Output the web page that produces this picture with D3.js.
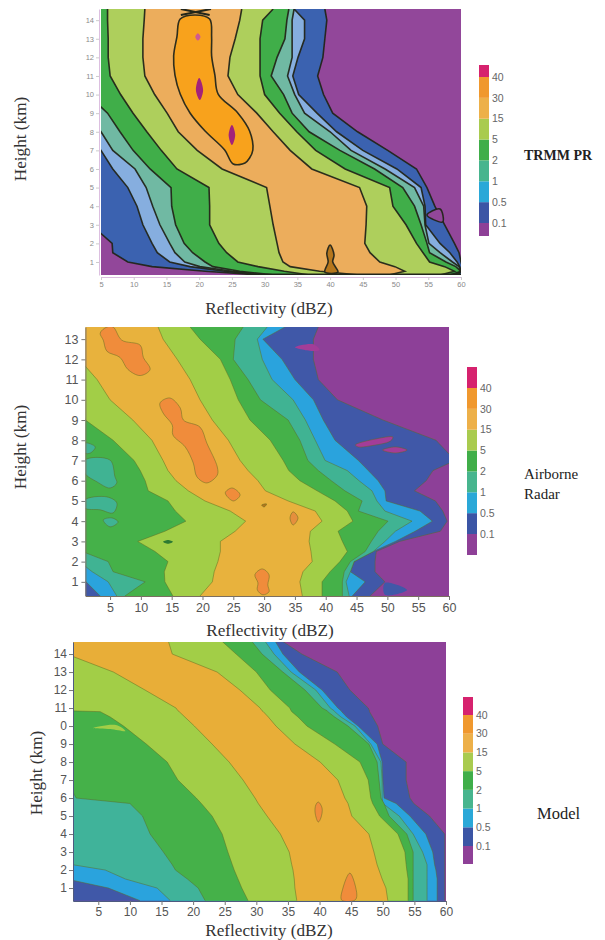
<!DOCTYPE html>
<html>
<head>
<meta charset="utf-8">
<script src="https://cdn.jsdelivr.net/npm/d3@7"></script>
<style>
  html, body { margin: 0; background: #fff; }
  svg { display: block; }
</style>
</head>
<body>
<div id="chart"></div>
<script>
// frequency class labels on the colour bars
const barLabels = ["40", "30", "15", "5", "2", "1", "0.5", "0.1"];

// ---- TRMM PR: reflectivity (dBZ) of each contour at each height (km)
const trmmHeights = [0.3, 0.5, 0.75, 1, 1.5, 2, 3, 4, 5, 6, 7, 8, 9, 10, 11, 12, 13, 14, 14.6];
const trmmLeft01 = [29.3, 20.9, 12.8, 9.1, 6.8, 6.7, 3.5, 3, 3, 3, 3, 3, 3, 3, 3, 3, 3, 3, 3];
const trmmLeft05 = [30, 23.9, 18.6, 15.5, 13.6, 12.8, 11.4, 10.5, 9.1, 6.8, 5, 3, 3, 3, 3, 3, 3, 3, 3];
const trmmLeft1 = [30.8, 25, 20.1, 17.8, 16.3, 15.5, 14, 12.9, 11.9, 10.2, 6.8, 5, 3, 3, 3, 3, 3, 3, 3];
const trmmLeft2 = [31.6, 26.2, 22.1, 20.9, 19, 17.7, 16.4, 15.8, 15.7, 12.5, 9.9, 7.9, 6, 3, 3, 3, 3, 3, 3];
const trmmLeft5 = [36.9, 33, 29, 25.9, 24.2, 23, 21.6, 21.6, 21.5, 16.6, 14.2, 12, 9.9, 8, 6.4, 6.1, 6.1, 6, 6];
const trmmLeft15 = [44.5, 38.4, 33.9, 32.8, 32.2, 31.9, 31.3, 30.8, 30.3, 23.5, 19.7, 16.8, 15.1, 13.2, 11.7, 11.4, 11.4, 11.6, 11.7];
const trmmRight15 = [49, 51.4, 49.9, 47.6, 46.1, 45.3, 45.5, 45.6, 44.5, 37.2, 33.9, 31.3, 28.8, 25.9, 24.4, 24.7, 25.5, 26.2, 26.5];
const trmmRight5 = [56.8, 59, 57.5, 55.2, 54.2, 53.2, 51.6, 49.6, 49.1, 42.3, 37.8, 34.9, 32.3, 30, 29.3, 29.3, 29.3, 29.7, 31.3];
const trmmRight2 = [58.3, 60, 59.2, 57.7, 55.2, 54.8, 53.9, 52.9, 51.1, 46.8, 41.5, 36.8, 34.2, 32.9, 31, 31.9, 33.1, 33.4, 33.7];
const trmmRight1 = [59, 60, 59.7, 58.7, 56.8, 55.1, 54.5, 54.3, 52.9, 48.4, 43.2, 40, 36.1, 34.6, 33.5, 34.2, 34.2, 34.2, 34.5];
const trmmRight05 = [59.5, 60, 59.8, 59.4, 58.3, 56.8, 54.6, 54.5, 53.9, 50.2, 45, 41, 38, 35.2, 34.3, 35.1, 36.1, 36.1, 34.5];
const trmmRight01 = [60.2, 60.2, 60.2, 60, 59.7, 59, 57.5, 56, 54.8, 53.2, 48.8, 44.2, 40.4, 39, 38.1, 38.9, 39.2, 39.5, 39.2];
// closed contours, as [dBZ, km]
const trmmCore = [[25.2, 6.27], [23.9, 7.02], [20.9, 8.04], [18.6, 9.01], [17.1, 10.03], [16.3, 11.05], [16.1, 12.08], [16.6, 13.1], [17.1, 14.06], [19.4, 14.28], [21.6, 14.06], [21.9, 13.1], [21.9, 12.08], [22.4, 11.05], [22.9, 10.03], [25.9, 9.01], [27.7, 8.04], [28.2, 7.02], [27.7, 6.59], [27, 6.32]];
const trmmSpire = [[40, 1.91], [40.6, 1.38], [40.4, 1], [41.2, 0.46], [39.2, 0.46], [39.7, 1], [39.5, 1.48]];
const trmmSpot1 = [[19.4, 13.1], [19.8, 13.3], [20.2, 13.1], [19.8, 12.9]];
const trmmSpot2 = [[20, 10.89], [20.6, 10.25], [20.1, 9.71], [19.5, 10.25]];
const trmmSpot3 = [[25, 8.37], [25.5, 7.83], [25, 7.29], [24.5, 7.83]];
const trmmNotch = [[56.8, 3.85], [54.8, 3.53], [57.2, 3.15]];
const trmmCross1 = [[17.2, 14.6], [21.6, 14.28]];
const trmmCross2 = [[21.8, 14.6], [17.2, 14.28]];
const trmmBase = [[29, 0.33], [60, 0.33]];

// ---- Airborne radar
const airHeights = [0.3, 1, 1.5, 2, 2.5, 3, 3.5, 4, 4.5, 5, 5.5, 6, 6.5, 7, 8, 9, 10, 11, 12, 13, 13.6];
const airLeft01 = [0, 0, 0, 0, 0, 0, 0, 0, 0, 0, 0, 0, 0, 0, 0, 0, 0, 0, 0, 0, 0];
const airLeft05 = [3.4, 1.1, 0, 0, 0, 0, 0, 0, 0, 0, 0, 0, 0, 0, 0, 0, 0, 0, 0, 0, 0];
const airLeft1 = [6.1, 4.7, 2.1, 0, 0, 0, 0, 0, 0, 0, 0, 0, 0, 0, 0, 0, 0, 0, 0, 0, 0];
const airLeft2 = [7.4, 10.7, 5.5, 4.7, 0.5, 0, 0, 0, 0, 0, 0, 0, 0, 0, 0, 0, 0, 0, 0, 0, 0];
const airLeft5 = [15.2, 13.9, 13.8, 14.4, 12.3, 9.5, 13.9, 17.3, 15.6, 14.4, 11.2, 10.7, 9.9, 8.9, 5.5, 1, 0, 0, 0, 0, 0];
const airLeft15 = [19.6, 21.6, 21.9, 22.5, 22.9, 22.9, 25.3, 27, 24.5, 20.4, 17.7, 15.7, 14.4, 13.6, 11.8, 8.7, 5, 2.9, 0, 0, 0];
const airRight15 = [36.2, 35.8, 36.3, 37.8, 37.6, 37.3, 37.5, 39.4, 38.3, 33.9, 30.2, 29, 27.4, 26.1, 24.2, 21.6, 19.6, 18, 15.9, 13.6, 12.8];
const airRight5 = [39.4, 39.4, 40.7, 42.3, 43.5, 42.7, 42, 44.4, 43.5, 41.5, 38.6, 35.8, 34, 33.1, 31, 27.7, 25.8, 24.5, 22.9, 19.6, 18];
const airRight2 = [42.7, 42.7, 43, 44, 46.4, 47.4, 48.5, 50.1, 45.3, 45.9, 43.1, 40.9, 38.8, 37.1, 35.8, 33.9, 29.4, 27.4, 25, 25.3, 26.6];
const airRight1 = [43.8, 43.3, 44, 44.6, 47.7, 49.6, 51.3, 54, 49.6, 48.3, 47.5, 45.4, 43.5, 39.9, 38.3, 36.7, 34.7, 31.3, 29.7, 28.9, 30.5];
const airRight05 = [44.3, 46.4, 44, 44.6, 47.7, 51.3, 54.5, 57.3, 55.3, 49.8, 49.6, 48.5, 46.9, 45.3, 41.5, 39.6, 38, 35, 32.9, 29.8, 33.4];
const airRight01 = [47.2, 49.6, 48, 48, 48.2, 52, 58.6, 59.7, 59, 57.8, 54.4, 56.3, 57.4, 61, 57.9, 49.3, 41.9, 38.8, 38, 38, 38.8];
const airOrange1 = [[3.4, 13.3], [4.5, 13.6], [5.5, 13.6], [6.9, 12.95], [9.9, 12.7], [10.4, 12.1], [11.5, 11.5], [9.9, 11.2], [7.9, 11.5], [6.6, 12.1], [4.5, 12.4], [3.9, 12.95]];
const airOrange2 = [[13.1, 9.84], [14.7, 10.09], [16.4, 9.59], [16.9, 9], [19.6, 8.65], [20.7, 7.86], [22.4, 6.68], [22.4, 6.28], [20.7, 5.89], [19.1, 6.19], [18.5, 6.88], [17.2, 7.67], [15.2, 8.26], [15.1, 8.75], [13.6, 9.35]];
const airOrange3 = [[23.7, 5.4], [24.8, 5.64], [26.1, 5.3], [25, 5]];
const airOrange4 = [[29.6, 4.8], [30.4, 4.85], [30, 4.7]];
const airOrange5 = [[34.2, 4.16], [34.7, 4.46], [35.5, 4.16], [34.7, 3.81]];
const airOrange6 = [[28.5, 1.35], [29.7, 1.64], [30.8, 1.35], [30.6, 0.85], [30.8, 0.51], [29.8, 0.36], [28.9, 0.6], [29, 0.95]];
const airTeal1 = [[0.9, 5.05], [4.5, 5.2], [6.1, 4.9], [5.5, 4.41], [3.4, 4.56], [0.9, 4.65]];
const airTeal2 = [[3.9, 4.06], [5.3, 4.16], [6.3, 3.96], [5, 3.72]];
const airTeal3 = [[0.9, 7.02], [5, 7.02], [5.8, 6.19], [6.1, 5.89], [5, 5.64], [2.9, 5.94], [0.9, 6.38]];
const airTeal4 = [[0.9, 7.86], [2.6, 7.67], [1.8, 7.37], [0.9, 7.37]];
const airPurple1 = [[44.8, 7.77], [48, 8.06], [50.9, 8.16], [50.5, 7.96], [47.2, 7.72], [45.3, 7.67]];
const airPurple2 = [[49.2, 7.52], [51.3, 7.67], [53.2, 7.52], [51.3, 7.37]];
const airPurple3 = [[35, 12.6], [38, 12.75], [39, 12.46], [38, 12.41]];
const airBlueTip = [[49.6, 0.95], [53.2, 0.6], [49.6, 0.36]];
const airGreenDot = [[13.6, 2.98], [14.4, 3.07], [15.2, 2.98], [14.4, 2.88]];

// ---- Model
const modelHeights = [0.3, 1, 1.5, 2, 2.3, 3, 4, 5, 5.7, 6, 7, 8, 9, 10, 10.5, 10.8, 10.85, 11, 12, 13, 14, 14.7];
const modelLeft01 = [0, 0, 0, 0, 0, 0, 0, 0, 0, 0, 0, 0, 0, 0, 0, 0, 0, 0, 0, 0, 0, 0];
const modelLeft05 = [11.6, 6.6, 0, 0, 0, 0, 0, 0, 0, 0, 0, 0, 0, 0, 0, 0, 0, 0, 0, 0, 0, 0];
const modelLeft1 = [16.4, 14.3, 9.3, 6.1, 0.9, 0, 0, 0, 0, 0, 0, 0, 0, 0, 0, 0, 0, 0, 0, 0, 0, 0];
const modelLeft2 = [21.9, 20.8, 19.1, 17.2, 16.7, 15.3, 13.2, 12, 10, 1.5, 0, 0, 0, 0, 0, 0, 0, 0, 0, 0, 0, 0];
const modelLeft5 = [28.7, 27.7, 27.1, 26.5, 26.2, 25.5, 24.6, 23, 21.3, 20.5, 17.6, 15.9, 12.6, 9, 6.9, 5.3, 0, 0, 0, 0, 0, 0];
const modelLeft15 = [36.4, 36.1, 36, 35.8, 35.6, 35.2, 33.8, 31.7, 30.3, 29.8, 27.9, 25.7, 23, 20.2, 18.7, 17.8, 17.6, 17.3, 12.4, 7.4, 0, 0];
const modelRight15 = [50.8, 50.5, 49.9, 49.4, 49.1, 48.6, 47.8, 45.1, 44.5, 44, 42.9, 40.1, 36.1, 33.1, 31.9, 31.1, 30.9, 30.6, 27.4, 23.8, 16.7, 16.1];
const modelRight5 = [54, 54, 54, 53.8, 53.7, 53.5, 52.4, 49.5, 48.4, 48.1, 47.7, 46.4, 42.4, 38, 36.6, 35.6, 35.5, 35.3, 32.2, 30, 26.8, 24.6];
const modelRight2 = [54.8, 54.8, 54.8, 54.8, 54.8, 54.8, 53.8, 51, 50.2, 49.7, 49.4, 49.1, 47.8, 44.5, 42.4, 41.3, 41.2, 40.4, 37.7, 34.2, 30.9, 29.3];
const modelRight1 = [57, 57, 57, 57, 57, 56.3, 54.8, 52.6, 50, 49.9, 49.9, 49.7, 48.1, 45.6, 43.4, 42.4, 42.3, 41.7, 39.4, 35.5, 32.8, 31.4];
const modelRight05 = [58.6, 58.6, 58.6, 58.4, 58.2, 57.9, 56.8, 54.3, 52.1, 50.2, 50, 49.9, 49.1, 46.1, 44.3, 43.5, 43.4, 42.9, 40.4, 36.8, 34.2, 33];
const modelRight01 = [59.8, 59.8, 59.8, 59.8, 59.8, 59.8, 59.8, 57.4, 54.9, 54.3, 53.7, 53.7, 50, 49.2, 48.4, 47.9, 47.9, 47.7, 44.8, 42.8, 37.2, 34.2];
const modelOrange1 = [[39.8, 5.78], [40.4, 5.44], [40.2, 4.89], [39.8, 4.67], [39.3, 5.17], [39.4, 5.61]];
const modelOrange2 = [[44.8, 1.83], [45.9, 0.61], [45.6, 0.33], [43.5, 0.33], [43.7, 1]];
const modelNotch = [[4.2, 9.89], [7.8, 10.06], [9.3, 9.72], [6.9, 9.83]];

// ---- axis ticks
const trmmXTicks = [5, 10, 15, 20, 25, 30, 35, 40, 45, 50, 55, 60];
const trmmYTicks = [1, 2, 3, 4, 5, 6, 7, 8, 9, 10, 11, 12, 13, 14];
const airYTicks = [1, 2, 3, 4, 5, 6, 7, 8, 9, 10, 11, 12, 13];
const modelYTicks = [1, 2, 3, 4, 5, 6, 7, 8, 9, 10, 11, 12, 13, 14];

// order: <0.1, 0.1, 0.5, 1, 2, 5, 15, 30, 40
const barColors = ["#8e3f97", "#3a55a5", "#2aa8d8", "#46b58e", "#3fae4a", "#a9cb50", "#edb04a", "#f0982f", "#d6246e"];
const trmmColors = ["#92479a", "#3b62b0", "#86aedf", "#6fb9a3", "#40ae4a", "#aecf5c", "#ecad5c"];
const airColors = ["#8d4098", "#4058a8", "#2aa3dd", "#40b393", "#44b14a", "#a2ce46", "#e8b23c"];
const modelColors = ["#8d4098", "#4058a8", "#2aa3dd", "#3fb39a", "#44b14a", "#a2ce46", "#e8ae38"];

const svg = d3.select("#chart").append("svg")
  .attr("width", 605)
  .attr("height", 940);

const defs = svg.append("defs");
defs.append("filter").attr("id", "soft")
  .append("feGaussianBlur").attr("stdDeviation", 0.55);

function drawPanel(p) {
  let x = d3.scaleLinear().domain(p.xDomain).range(p.xRange);
  let y = d3.scaleLinear().domain(p.yDomain).range(p.yRange);

  defs.append("clipPath").attr("id", p.id)
    .append("rect")
    .attr("x", p.xRange[0]).attr("y", p.yRange[1])
    .attr("width", p.xRange[1] - p.xRange[0])
    .attr("height", p.yRange[0] - p.yRange[1]);

  let plot = svg.append("g")
    .attr("clip-path", `url(#${p.id})`)
    .append("g")
    .attr("filter", "url(#soft)");

  plot.append("rect")
    .attr("x", p.xRange[0] - 3).attr("y", p.yRange[1] - 3)
    .attr("width", p.xRange[1] - p.xRange[0] + 6)
    .attr("height", p.yRange[0] - p.yRange[1] + 6)
    .attr("fill", p.colors[0]);

  let area = d3.area().y(d => y(d.h)).x0(d => x(d.l)).x1(d => x(d.r));
  let edge = d3.line().x(d => x(d[0])).y(d => y(d[1]));
  let closed = d3.line().x(d => x(d[0])).y(d => y(d[1])).curve(d3.curveCatmullRomClosed.alpha(0.5));

  // nested bands from the outer contour inwards
  p.lefts.forEach((left, i) => {
    let rows = p.heights.map((h, j) => ({ h: h, l: left[j], r: p.rights[i][j] }));
    plot.append("path").datum(rows)
      .attr("fill", p.colors[i + 1])
      .attr("d", area);
    plot.append("path").datum(rows.map(d => [d.l, d.h]))
      .attr("fill", "none").attr("stroke", p.line).attr("stroke-width", p.lineWidth)
      .attr("stroke-opacity", p.lineOpacity)
      .attr("d", edge);
    plot.append("path").datum(rows.map(d => [d.r, d.h]))
      .attr("fill", "none").attr("stroke", p.line).attr("stroke-width", p.lineWidth)
      .attr("stroke-opacity", p.lineOpacity)
      .attr("d", edge);
  });

  p.blobs.forEach(b => {
    plot.append("path").datum(b.points)
      .attr("fill", b.fill)
      .attr("stroke", b.noLine ? "none" : p.line)
      .attr("stroke-width", p.lineWidth)
      .attr("stroke-opacity", p.lineOpacity)
      .attr("d", closed);
  });

  (p.strokes || []).forEach(s => {
    plot.append("path").datum(s)
      .attr("fill", "none").attr("stroke", p.line).attr("stroke-width", p.lineWidth + 0.5)
      .attr("d", edge);
  });

  // axes
  let xAxis = svg.append("g")
    .attr("transform", `translate(0,${p.yRange[0] + p.axisGap})`)
    .call(d3.axisBottom(x).tickValues(p.xTicks).tickSize(p.tickSize).tickSizeOuter(0).tickPadding(p.tickPad));
  let yAxis = svg.append("g")
    .attr("transform", `translate(${p.xRange[0] - p.axisGap},0)`)
    .call(d3.axisLeft(y).tickValues(p.yTicks).tickFormat(p.yFormat).tickSize(p.tickSize).tickSizeOuter(0).tickPadding(p.tickPad));
  [xAxis, yAxis].forEach(a => {
    a.selectAll("text")
      .attr("font-family", "'Liberation Sans', sans-serif")
      .attr("font-size", p.tickFont)
      .attr("fill", p.tickColor);
    a.selectAll("line").attr("stroke", p.tickLine);
    a.select(".domain").attr("stroke", p.axisColor);
  });

  // axis titles
  svg.append("text")
    .attr("x", p.xTitle[0]).attr("y", p.xTitle[1])
    .attr("text-anchor", "middle")
    .attr("font-family", "'Liberation Serif', serif")
    .attr("font-size", 17.2).attr("fill", "#333")
    .text("Reflectivity (dBZ)");
  svg.append("text")
    .attr("transform", `translate(${p.yTitle[0]},${p.yTitle[1]}) rotate(-90)`)
    .attr("text-anchor", "middle")
    .attr("font-family", "'Liberation Serif', serif")
    .attr("font-size", 17.2).attr("fill", "#333")
    .text("Height (km)");

  // colour bar
  let barY = d3.scalePoint().domain(barLabels).range(p.barTicks);
  let stops = [p.barEnds[1]].concat(barLabels.slice().reverse().map(d => barY(d)), [p.barEnds[0]]);
  let bar = svg.append("g").attr("filter", "url(#soft)");
  barColors.forEach((c, i) => {
    bar.append("rect")
      .attr("x", p.barX).attr("width", 10)
      .attr("y", stops[i + 1]).attr("height", stops[i] - stops[i + 1])
      .attr("fill", c);
  });
  svg.append("g").selectAll("text").data(barLabels).join("text")
    .attr("x", p.barX + 13)
    .attr("y", d => barY(d))
    .attr("dy", "0.35em")
    .attr("font-family", "'Liberation Sans', sans-serif")
    .attr("font-size", 10.5)
    .attr("fill", "#666")
    .text(d => d);

  // panel name
  svg.append("g").selectAll("text").data(p.name).join("text")
    .attr("x", p.nameX)
    .attr("y", (d, i) => p.nameY + i * 20)
    .attr("font-family", "'Liberation Serif', serif")
    .attr("font-size", p.nameSize)
    .attr("font-weight", p.nameBold ? 700 : 400)
    .attr("fill", "#222")
    .text(d => d);
}

drawPanel({
  id: "clip-trmm",
  heights: trmmHeights,
  lefts: [trmmLeft01, trmmLeft05, trmmLeft1, trmmLeft2, trmmLeft5, trmmLeft15],
  rights: [trmmRight01, trmmRight05, trmmRight1, trmmRight2, trmmRight5, trmmRight15],
  colors: trmmColors,
  blobs: [
    { points: trmmCore, fill: "#f8a21e" },
    { points: trmmSpire, fill: "#b5761f" },
    { points: trmmSpot1, fill: "#d05a90", noLine: true },
    { points: trmmSpot2, fill: "#a3217a", noLine: true },
    { points: trmmSpot3, fill: "#a3217a", noLine: true },
    { points: trmmNotch, fill: "#92479a" }
  ],
  strokes: [trmmCross1, trmmCross2, trmmBase],
  line: "#23261a", lineWidth: 1.6, lineOpacity: 0.95,
  xDomain: [5, 60], xRange: [101, 461],
  yDomain: [0.3, 14.6], yRange: [275, 9],
  xTicks: trmmXTicks, yTicks: trmmYTicks, yFormat: d => d,
  axisGap: 2, tickSize: 3, tickPad: 2, tickFont: 7.5, tickColor: "#8a8a8a",
  tickLine: "#ccc", axisColor: "#dcbfe0",
  xTitle: [269, 314], yTitle: [26, 139],
  barX: 479, barTicks: [77, 223], barEnds: [65, 236],
  name: ["TRMM PR"], nameX: 524, nameY: 160, nameBold: true, nameSize: 14
});

drawPanel({
  id: "clip-air",
  heights: airHeights,
  lefts: [airLeft01, airLeft05, airLeft1, airLeft2, airLeft5, airLeft15],
  rights: [airRight01, airRight05, airRight1, airRight2, airRight5, airRight15],
  colors: airColors,
  blobs: [
    { points: airOrange1, fill: "#f08c3b" },
    { points: airOrange2, fill: "#f08c3b" },
    { points: airOrange3, fill: "#f08c3b" },
    { points: airOrange4, fill: "#b5761f" },
    { points: airOrange5, fill: "#e58f3c" },
    { points: airOrange6, fill: "#f08c3b" },
    { points: airTeal1, fill: "#40b393" },
    { points: airTeal2, fill: "#40b393" },
    { points: airTeal3, fill: "#40b393" },
    { points: airTeal4, fill: "#40b393" },
    { points: airPurple1, fill: "#a33c98" },
    { points: airPurple2, fill: "#a33c98" },
    { points: airPurple3, fill: "#a33c98", noLine: true },
    { points: airBlueTip, fill: "#4058a8", noLine: true },
    { points: airGreenDot, fill: "#2d7a33", noLine: true }
  ],
  line: "#5d6a22", lineWidth: 0.9, lineOpacity: 0.55,
  xDomain: [1, 60], xRange: [85.4, 449],
  yDomain: [0.3, 13.6], yRange: [596, 327],
  xTicks: trmmXTicks, yTicks: airYTicks, yFormat: d => d,
  axisGap: 0, tickSize: 4, tickPad: 3, tickFont: 12.5, tickColor: "#555",
  tickLine: "#777", axisColor: "#7b6f60",
  xTitle: [270, 636], yTitle: [26, 447],
  barX: 467, barTicks: [388, 534], barEnds: [367, 555],
  name: ["Airborne", "Radar"], nameX: 524, nameY: 479, nameBold: false, nameSize: 15
});

drawPanel({
  id: "clip-model",
  heights: modelHeights,
  lefts: [modelLeft01, modelLeft05, modelLeft1, modelLeft2, modelLeft5, modelLeft15],
  rights: [modelRight01, modelRight05, modelRight1, modelRight2, modelRight5, modelRight15],
  colors: modelColors,
  blobs: [
    { points: modelOrange1, fill: "#f08c3b" },
    { points: modelOrange2, fill: "#f08c3b" },
    { points: modelNotch, fill: "#a2ce46", noLine: true }
  ],
  line: "#5d6a22", lineWidth: 0.9, lineOpacity: 0.55,
  xDomain: [1, 60], xRange: [73, 446],
  yDomain: [0.28, 14.67], yRange: [901, 642],
  xTicks: trmmXTicks, yTicks: modelYTicks,
  yFormat: d => d === 10 ? "0" : d,
  axisGap: 0, tickSize: 4, tickPad: 2, tickFont: 12, tickColor: "#555",
  tickLine: "#777", axisColor: "#4e5a80",
  xTitle: [269, 936], yTitle: [42, 773],
  barX: 463, barTicks: [715, 846], barEnds: [697, 864],
  name: ["Model"], nameX: 537, nameY: 819, nameBold: false, nameSize: 16.5
});
</script>
</body>
</html>
